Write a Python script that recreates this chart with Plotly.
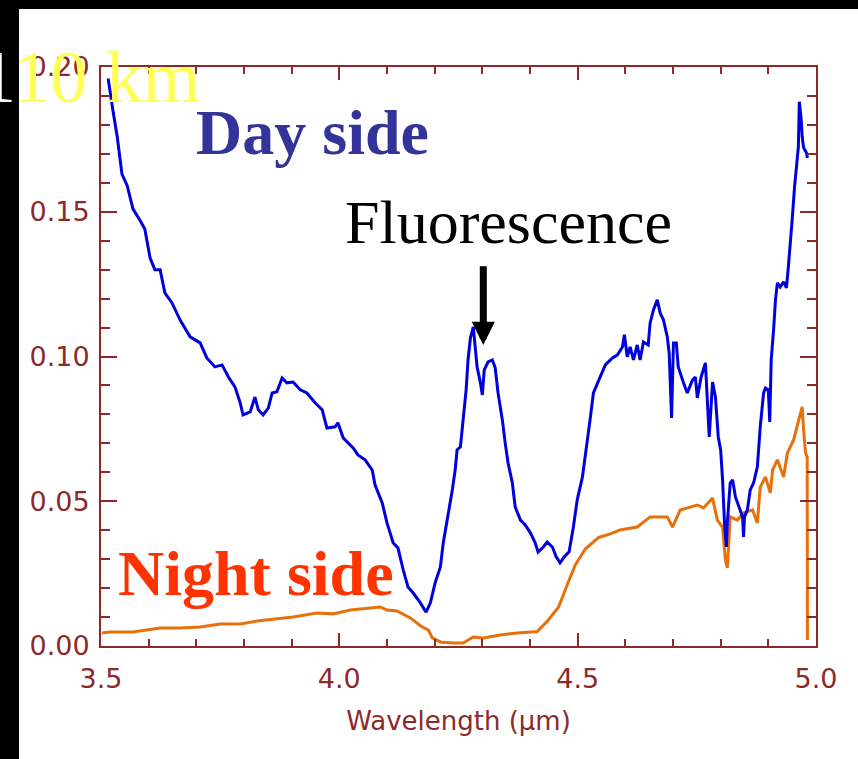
import plotly.graph_objects as go

# ---- data ----
day_wl = [3.515, 3.519, 3.525, 3.534, 3.544, 3.555, 3.567, 3.582, 3.592, 3.603, 3.613, 3.624, 3.634, 3.649,
          3.666, 3.687, 3.708, 3.722, 3.739, 3.754, 3.767, 3.781, 3.792, 3.798, 3.813, 3.823, 3.830, 3.840,
          3.851, 3.859, 3.869, 3.880, 3.890, 3.903, 3.918, 3.932, 3.949, 3.964, 3.974, 3.991, 3.997, 4.008,
          4.016, 4.029, 4.039, 4.054, 4.069, 4.075, 4.090, 4.100, 4.113, 4.123, 4.134, 4.144, 4.155, 4.170,
          4.182, 4.191, 4.201, 4.212, 4.218, 4.228, 4.237, 4.243, 4.247, 4.254, 4.260, 4.266, 4.270, 4.275,
          4.281, 4.285, 4.289, 4.296, 4.300, 4.304, 4.312, 4.321, 4.327, 4.333, 4.342, 4.348, 4.354, 4.363,
          4.369, 4.380, 4.390, 4.401, 4.411, 4.417, 4.428, 4.436, 4.447, 4.455, 4.463, 4.472, 4.482, 4.491,
          4.499, 4.510, 4.518, 4.526, 4.533, 4.547, 4.558, 4.573, 4.583, 4.594, 4.598, 4.604, 4.610, 4.617,
          4.625, 4.631, 4.638, 4.648, 4.652, 4.659, 4.667, 4.673, 4.680, 4.688, 4.692, 4.697, 4.701, 4.707,
          4.711, 4.722, 4.730, 4.741, 4.747, 4.751, 4.759, 4.768, 4.772, 4.776, 4.783, 4.789, 4.795, 4.800,
          4.804, 4.808, 4.812, 4.814, 4.820, 4.825, 4.831, 4.839, 4.846, 4.848, 4.850, 4.856, 4.862, 4.869,
          4.877, 4.883, 4.890, 4.894, 4.900, 4.903, 4.906, 4.911, 4.915, 4.919, 4.925, 4.932, 4.938, 4.942,
          4.946, 4.950, 4.955, 4.959, 4.963, 4.965, 4.969, 4.971, 4.974, 4.980, 4.982]
day_val = [0.196, 0.191, 0.185, 0.176, 0.163, 0.159, 0.151, 0.147, 0.144, 0.134, 0.130, 0.130, 0.122, 0.1185,
           0.1126, 0.1068, 0.1047, 0.0995, 0.0964, 0.0971, 0.0930, 0.0895, 0.0840, 0.0798, 0.0809, 0.0860, 0.0816, 0.0798,
           0.0822, 0.0874, 0.0878, 0.0926, 0.0909, 0.0912, 0.0885, 0.0874, 0.0840, 0.0816, 0.0753, 0.0757, 0.0771, 0.0719,
           0.0705, 0.0684, 0.0660, 0.0643, 0.0608, 0.0556, 0.0494, 0.0425, 0.0356, 0.0339, 0.0263, 0.0204, 0.0183, 0.0149,
           0.0117, 0.0149, 0.0218, 0.0273, 0.0356, 0.0446, 0.0539, 0.0608, 0.0677, 0.0688, 0.0791, 0.0885, 0.0988, 0.1064,
           0.1102, 0.1033, 0.0964, 0.0909, 0.0867, 0.0954, 0.0981, 0.0988, 0.0961, 0.0874, 0.0781, 0.0701, 0.0632, 0.0563,
           0.0480, 0.0435, 0.0418, 0.0390, 0.0356, 0.0325, 0.0342, 0.0359, 0.0342, 0.0308, 0.0287, 0.0308, 0.0325, 0.0411,
           0.0504, 0.0584, 0.0677, 0.0781, 0.0874, 0.0929, 0.0971, 0.0995, 0.1005, 0.1033, 0.1075, 0.0999, 0.1033, 0.0988,
           0.1040, 0.0988, 0.1050, 0.1040, 0.1116, 0.1161, 0.1196, 0.1151, 0.1126, 0.1068, 0.1012, 0.0788, 0.1047, 0.1047,
           0.0964, 0.0909, 0.0874, 0.0919, 0.0929, 0.0857, 0.0929, 0.0978, 0.0826, 0.0722, 0.0912, 0.0860, 0.0722, 0.0677,
           0.0574, 0.0425, 0.0342, 0.0425, 0.0563, 0.0574, 0.0515, 0.0480, 0.0446, 0.0377, 0.0446, 0.0470, 0.0539, 0.0563,
           0.0619, 0.0757, 0.0874, 0.0891, 0.0885, 0.0774, 0.0988, 0.1092, 0.1196, 0.1254, 0.1240, 0.1258, 0.1237, 0.1310,
           0.1379, 0.1472, 0.1586, 0.1655, 0.1724, 0.1880, 0.1818, 0.1759, 0.1721, 0.1704, 0.1686]

night_wl = [3.502, 3.519, 3.567, 3.624, 3.666, 3.708, 3.750, 3.792, 3.827, 3.869, 3.903, 3.953, 3.987, 4.023,
            4.058, 4.086, 4.100, 4.121, 4.149, 4.170, 4.187, 4.195, 4.212, 4.239, 4.260, 4.281, 4.302, 4.338,
            4.373, 4.415, 4.436, 4.460, 4.479, 4.495, 4.516, 4.544, 4.570, 4.589, 4.625, 4.652, 4.688, 4.699,
            4.715, 4.732, 4.751, 4.764, 4.783, 4.793, 4.804, 4.810, 4.814, 4.820, 4.835, 4.848, 4.867, 4.877,
            4.883, 4.894, 4.904, 4.909, 4.919, 4.932, 4.940, 4.953, 4.963, 4.971, 4.974, 4.978, 4.9815, 4.982]
night_val = [0.0045, 0.0048, 0.0048, 0.0062, 0.0062, 0.0066, 0.0076, 0.0076, 0.0086, 0.0093, 0.0100, 0.0114, 0.0111, 0.0124,
             0.0131, 0.0135, 0.0124, 0.0121, 0.0097, 0.0070, 0.0055, 0.0028, 0.0014, 0.0010, 0.0010, 0.0031, 0.0028, 0.0038,
             0.0045, 0.0050, 0.0085, 0.0135, 0.0215, 0.0280, 0.0335, 0.0375, 0.0388, 0.0401, 0.0411, 0.0446, 0.0446, 0.0411,
             0.0470, 0.0477, 0.0487, 0.0477, 0.0511, 0.0435, 0.0411, 0.0297, 0.0270, 0.0446, 0.0435, 0.0460, 0.0470, 0.0425,
             0.0549, 0.0584, 0.0529, 0.0608, 0.0643, 0.0584, 0.0667, 0.0712, 0.0771, 0.0826, 0.0746, 0.0667, 0.0653, 0.0021]

x_ticks = [3.5, 4.0, 4.5, 5.0]
y_ticks = [0.00, 0.05, 0.10, 0.15, 0.20]

AXIS = "#8c2a2a"
W, H = 858, 759
ML, MR, MT, MB = 101, 42, 67, 113
PW, PH = W - ML - MR, H - MT - MB

def px_to_paper(px, py):
    return (px - ML) / PW, (H - MB - py) / PH

fig = go.Figure()
fig.add_trace(go.Scatter(x=night_wl, y=night_val, mode="lines",
                         line=dict(color="#e8700a", width=3), hoverinfo="skip"))
fig.add_trace(go.Scatter(x=day_wl, y=day_val, mode="lines",
                         line=dict(color="#0000dd", width=3), hoverinfo="skip"))

tickfont = dict(family="DejaVu Sans", size=27, color=AXIS)

fig.update_xaxes(range=[3.5, 5.0], tickvals=x_ticks, tickformat=".1f", ticks="inside", ticklen=13,
                 tickwidth=2, tickcolor=AXIS, showline=True, linecolor=AXIS, linewidth=2, mirror="ticks",
                 showgrid=False, zeroline=False, tickfont=tickfont, ticklabelstandoff=8,
                 minor=dict(ticks="inside", ticklen=7, tickwidth=2, tickcolor=AXIS, dtick=0.1, showgrid=False),
                 title=dict(text="Wavelength (μm)", font=dict(family="DejaVu Sans", size=26, color=AXIS), standoff=18))
fig.update_yaxes(range=[0, 0.2], tickvals=y_ticks, tickformat=".2f", ticks="inside", ticklen=16,
                 tickwidth=2, tickcolor=AXIS, showline=True, linecolor=AXIS, linewidth=2, mirror="ticks",
                 showgrid=False, zeroline=False, tickfont=tickfont, ticklabelstandoff=4,
                 minor=dict(ticks="inside", ticklen=9, tickwidth=2, tickcolor=AXIS, dtick=0.01, showgrid=False))

# black slide borders
lx, _ = px_to_paper(0, 0)
rx, _ = px_to_paper(19, 0)
_, by = px_to_paper(0, H)
_, ty = px_to_paper(0, 0)
_, ty2 = px_to_paper(0, 9)
fx, _ = px_to_paper(W, 0)
fig.add_shape(type="rect", xref="paper", yref="paper", x0=lx, x1=rx, y0=by, y1=ty,
              fillcolor="black", line_width=0, layer="below")
fig.add_shape(type="rect", xref="paper", yref="paper", x0=lx, x1=fx, y0=ty2, y1=ty,
              fillcolor="black", line_width=0, layer="below")

serif = "Liberation Serif"
kx, ky = px_to_paper(-23, 77)
fig.add_annotation(xref="paper", yref="paper", x=kx, y=ky, xanchor="left", yanchor="middle",
                   text="<span style='color:white'>1</span>10 km", showarrow=False,
                   font=dict(family=serif, size=74, color="#ffff55"))
fig.add_annotation(x=3.943, y=0.1773, text="<b>Day side</b>", showarrow=False,
                   font=dict(family=serif, size=64, color="#333399"))
fig.add_annotation(x=3.825, y=0.0252, text="<b>Night side</b>", showarrow=False,
                   font=dict(family=serif, size=64, color="#ff3300"))
fig.add_annotation(x=4.355, y=0.1465, text="Fluorescence", showarrow=False,
                   font=dict(family=serif, size=62, color="black"))
fig.add_annotation(x=4.302, y=0.104, ax=4.302, ay=0.1317, axref="x", ayref="y", text="",
                   showarrow=True, arrowhead=2, arrowsize=0.66, arrowwidth=7, arrowcolor="black")

fig.update_layout(width=W, height=H, margin=dict(l=ML, r=MR, t=MT, b=MB, pad=0),
                  paper_bgcolor="white", plot_bgcolor="white", showlegend=False)

fig.write_html("out.html", config={"displayModeBar": False},
               post_script="document.body.style.margin='0';document.body.style.overflow='hidden';")
